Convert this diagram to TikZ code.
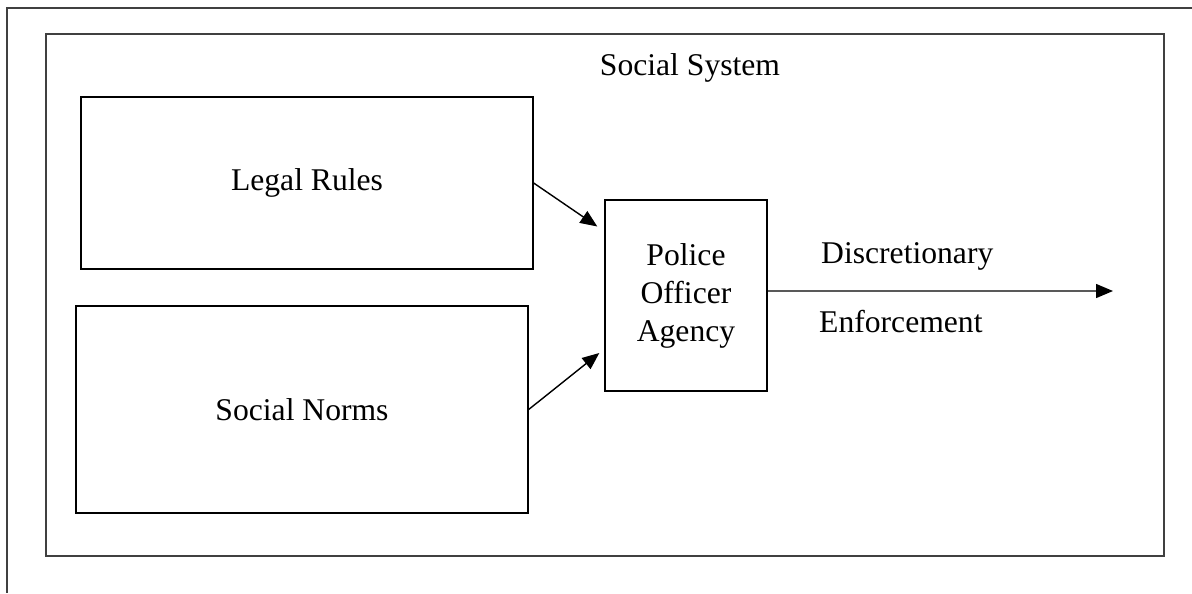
\documentclass[tikz,border=0pt]{standalone}
\usepackage{fontspec}
\setmainfont{Liberation Serif}
\usetikzlibrary{arrows.meta}
\tikzset{
  box/.style={draw, line width=0.8pt, inner sep=0pt},
  frame/.style={draw=black!75, line width=1pt},
  lbl/.style={font=\fontsize{18}{21.6}\selectfont},
  tip/.style={-{Triangle[length=0.34cm, width=0.28cm]}, line width=0.8pt}
}
\begin{document}
\begin{tikzpicture}[x=0.02cm, y=-0.02cm]
  \useasboundingbox (0, 0) rectangle (1192, 593);
  \draw [frame] (1192, 8) -- (7, 8) -- (7, 593);
  \node [frame, minimum width=22.36cm, minimum height=10.44cm] (system) at (605, 295) {};
  \node [lbl, anchor=base] (systitle) at (690, 75) {Social System};
  \node [box, lbl, minimum width=9.04cm, minimum height=3.44cm] (legal) at (307, 183) {Legal Rules};
  \node [box, lbl, minimum width=9.04cm, minimum height=4.14cm] (norms) at (302, 409.5) {Social Norms};
  \node [box, lbl, align=center, minimum width=3.24cm, minimum height=3.82cm] (police) at (686, 295.5) {Police\\Officer\\Agency};
  \coordinate (out) at (1113, 291);
  \draw [tip] (legal.east) -- ([xshift=-0.14cm, yshift=1.38cm]police.west);
  \draw [tip] (norms.east) -- ([xshift=-0.1cm, yshift=-1.15cm]police.west);
  \draw [tip] ([yshift=0.09cm]police.east) -- (out);
  \node [lbl, anchor=base west] (discr) at (815, 263) {Discretionary};
  \node [lbl, anchor=base west] (enforce) at (813, 332) {Enforcement};
\end{tikzpicture}
\end{document}
